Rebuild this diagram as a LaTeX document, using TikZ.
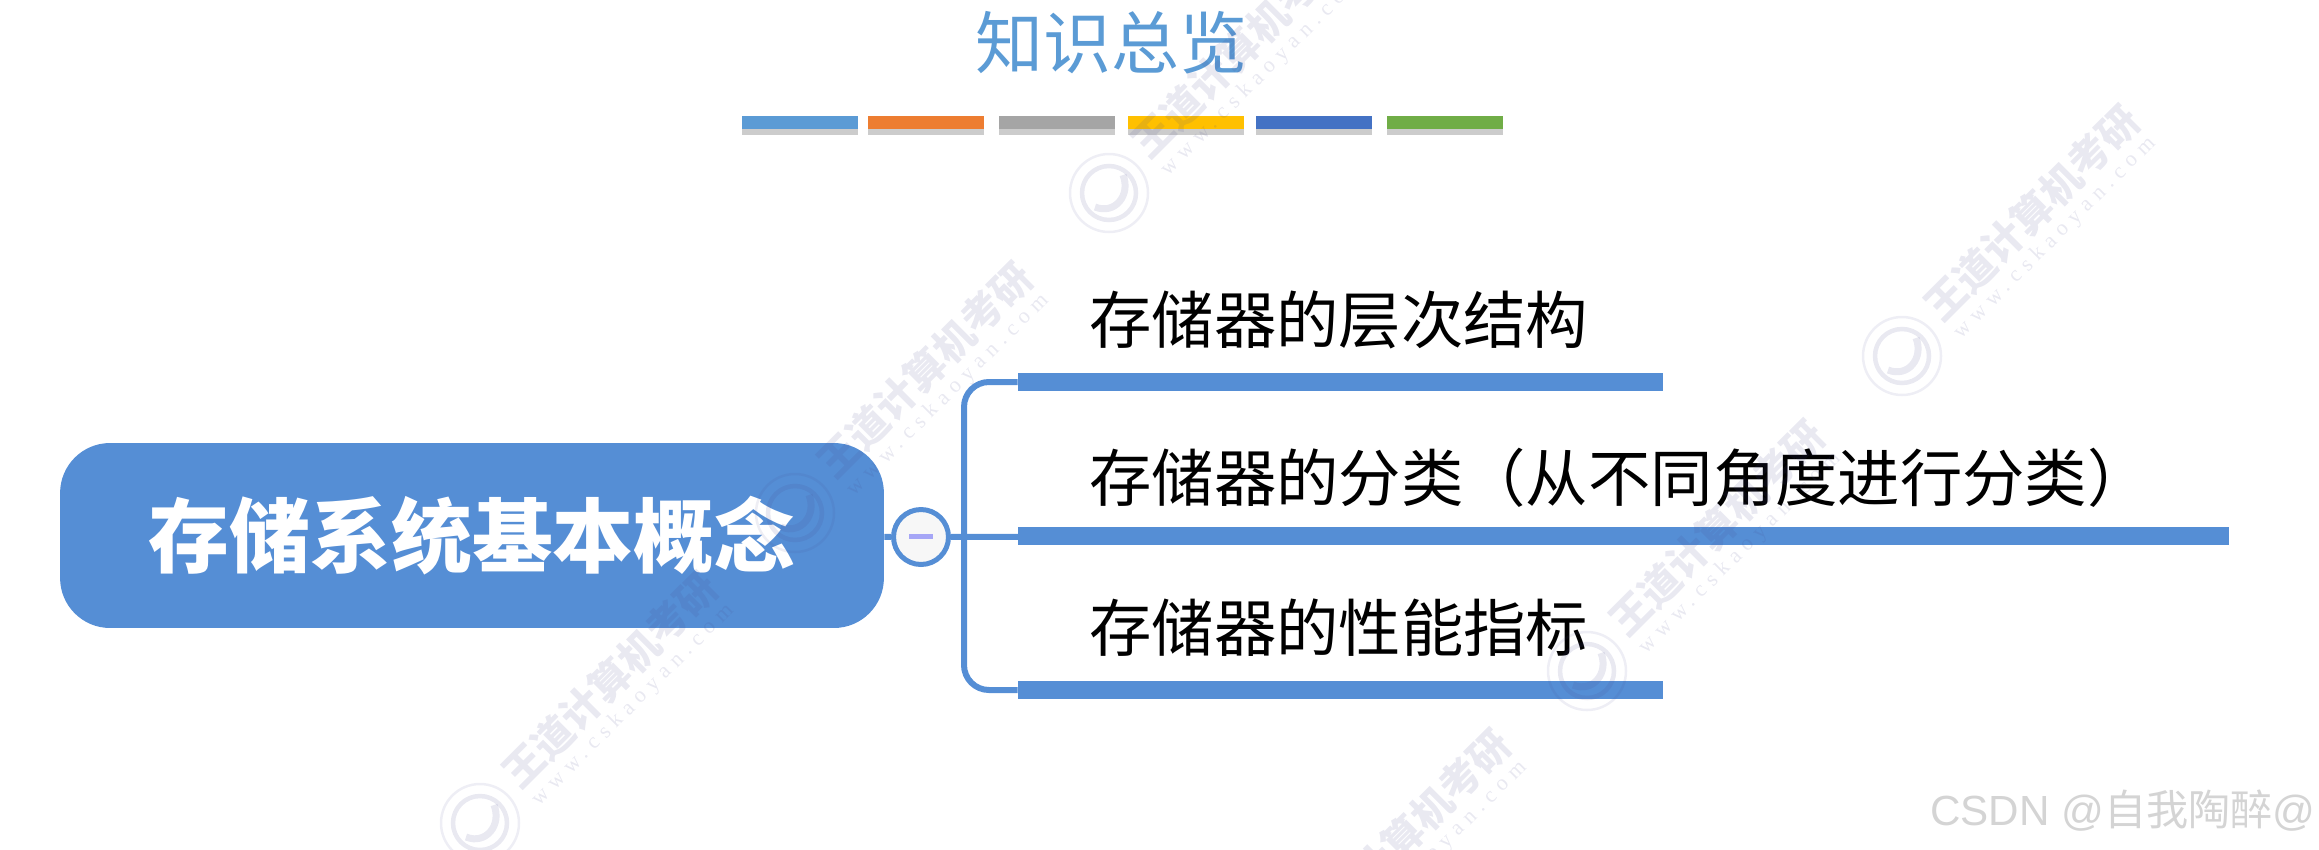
\documentclass[tikz,border=0pt]{standalone}
\usepackage{fontspec}
\setmainfont{Noto Sans CJK SC}
\newfontfamily\latinfont{Liberation Sans}
\newfontfamily\urlfont[LetterSpace=30]{Liberation Serif}
\definecolor{mapblue}{HTML}{558ED5}
\definecolor{titleblue}{HTML}{5B9BD5}
\definecolor{barorange}{HTML}{ED7D31}
\definecolor{bargray}{HTML}{A5A5A5}
\definecolor{baryellow}{HTML}{FFC000}
\definecolor{bardeep}{HTML}{4472C4}
\definecolor{bargreen}{HTML}{70AD47}
\definecolor{marktint}{HTML}{46468C}
\usetikzlibrary{shadows}
\tikzset{
	titlebar/.style={shape=rectangle,minimum width=2.32cm,minimum height=0.26cm,inner sep=0pt,drop shadow={shadow xshift=0cm,shadow yshift=-0.12cm,opacity=0.4}},
	rootbox/.style={shape=rectangle,fill=mapblue,rounded corners=1cm,minimum width=16.48cm,minimum height=3.7cm,inner sep=0pt,text=white,font=\fontsize{46}{50}\selectfont\bfseries},
	toggle/.style={shape=circle,draw=mapblue,fill=white!97!black,line width=0.1cm,inner sep=0pt,minimum size=1.1cm},
	minusbar/.style={shape=rectangle,fill=black!10!blue!35!white,inner sep=0pt,minimum width=0.48cm,minimum height=0.11cm},
	branchbar/.style={shape=rectangle,fill=mapblue,inner sep=0pt,minimum height=0.36cm},
	branchtext/.style={anchor=west,inner sep=0pt,text=black,font=\fontsize{35.5}{40}\selectfont},
	link/.style={draw=mapblue,line width=0.12cm},
	markname/.style={rotate=45,inner sep=0pt,text=marktint,text opacity=0.12,font=\fontsize{23}{26}\selectfont\bfseries},
	markurl/.style={rotate=45,inner sep=0pt,text=marktint,text opacity=0.12,font=\fontsize{12.5}{15}\urlfont},
	wmlogo/.pic={
		\draw[marktint,opacity=0.09,line width=0.05cm] (0,0) circle (39);
		\draw[marktint,opacity=0.12,line width=0.09cm] (0,0) circle (27);
		\draw[marktint,opacity=0.12,line width=0.14cm] (-14,14) .. controls (6,22) and (22,2) .. (14,-18);
	}
}
\begin{document}
\begin{tikzpicture}[x=0.02cm,y=-0.02cm]
	\useasboundingbox (0,0) rectangle (2319,849);

	\node[text=titleblue,inner sep=0pt,font=\fontsize{38.7}{44}\selectfont] (T) at (1111,43) {知识总览};
	\node[titlebar,fill=titleblue] (B1) at (800,122.5) {};
	\node[titlebar,fill=barorange] (B2) at (926,122.5) {};
	\node[titlebar,fill=bargray] (B3) at (1057,122.5) {};
	\node[titlebar,fill=baryellow] (B4) at (1186,122.5) {};
	\node[titlebar,fill=bardeep] (B5) at (1314,122.5) {};
	\node[titlebar,fill=bargreen] (B6) at (1445,122.5) {};

	\node[rootbox] (R) at (472,535.5) {存储系统基本概念};
	\node[toggle] (M) at (921,537) {};
	\node[minusbar] (N) at (921,536.5) {};
	\coordinate (J) at (964,536);

	\node[branchbar,minimum width=12.9cm] (P1) at (1340.5,382) {};
	\node[branchbar,minimum width=24.22cm] (P2) at (1623.5,536) {};
	\node[branchbar,minimum width=12.9cm] (P3) at (1340.5,690) {};
	\node[branchtext] (L1) at (1089,320) {存储器的层次结构};
	\node[branchtext] (L2) at (1089,478) {存储器的分类（从不同角度进行分类）};
	\node[branchtext] (L3) at (1089,628) {存储器的性能指标};

	\path [link] (R) edge (M);
	\path [link] (M) edge (P2);
	\draw [link,rounded corners=0.5cm] (J) |- (P1.west);
	\draw [link,rounded corners=0.5cm] (J) |- (P3.west);

	\node[markname] (W1) at (610,680) {王道计算机考研};
	\node[markurl] (U1) at (633,705) {www.cskaoyan.com};
	\pic at (480,823) {wmlogo};
	\node[markname] (W2) at (925,370) {王道计算机考研};
	\node[markurl] (U2) at (948,395) {www.cskaoyan.com};
	\pic at (795,513) {wmlogo};
	\node[markname] (W3) at (1239,50) {王道计算机考研};
	\node[markurl] (U3) at (1262,75) {www.cskaoyan.com};
	\pic at (1109,193) {wmlogo};
	\node[markname] (W4) at (1717,528) {王道计算机考研};
	\node[markurl] (U4) at (1740,553) {www.cskaoyan.com};
	\pic at (1587,671) {wmlogo};
	\node[markname] (W5) at (2032,213) {王道计算机考研};
	\node[markurl] (U5) at (2055,238) {www.cskaoyan.com};
	\pic at (1902,356) {wmlogo};
	\node[markname] (W6) at (1403,837) {王道计算机考研};
	\node[markurl] (U6) at (1426,862) {www.cskaoyan.com};

	\node[anchor=east,inner sep=0pt,text=black!17,font=\fontsize{24}{28}\selectfont] (C) at (2316,811) {{\latinfont CSDN @}自我陶醉{\latinfont @}};
\end{tikzpicture}
\end{document}
